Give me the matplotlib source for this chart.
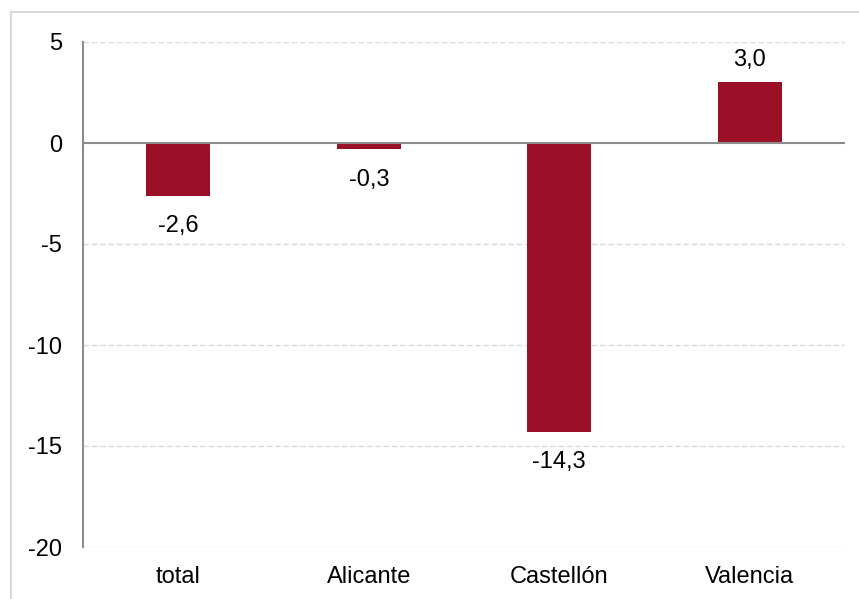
import matplotlib
matplotlib.use("Agg")
import matplotlib.pyplot as plt
from matplotlib.patches import Rectangle

categories = ["total", "Alicante", "Castellón", "Valencia"]
values = [-2.6, -0.3, -14.3, 3.0]
yticks = [5, 0, -5, -10, -15, -20]

bar_color = "#9b1027"
grid_color = "#d9d9d9"
axis_color = "#8c8c8c"

plt.rcParams["font.family"] = ["Liberation Sans", "DejaVu Sans"]

fig = plt.figure(figsize=(8.59, 5.99), dpi=100)
# light frame round the chart (cropped at right and bottom)
fig.patches.append(Rectangle((10.5 / 859, -0.1), 1.2, (599 - 11.5) / 599 + 0.1,
                             transform=fig.transFigure, fill=False,
                             edgecolor="#d9d9d9", linewidth=1.5))

ax = fig.add_axes([83 / 859, 52 / 599, 762 / 859, 505 / 599])
x = list(range(len(categories)))
ax.bar(x, values, width=0.336, color=bar_color, zorder=2)
ax.axhline(0, color=axis_color, linewidth=1.5, zorder=3)

for xi, v in zip(x, values):
    txt = f"{v:.1f}".replace(".", ",")
    if v >= 0:
        ax.annotate(txt, (xi, v), xytext=(0, 8), textcoords="offset points",
                    ha="center", va="bottom", fontsize=17)
    else:
        ax.annotate(txt, (xi, v), xytext=(0, -14), textcoords="offset points",
                    ha="center", va="top", fontsize=17)

ax.set_xlim(-0.5, len(categories) - 0.5)
ax.set_ylim(-20, 5)
ax.set_yticks(yticks)
ax.set_yticklabels([str(t) for t in yticks])
ax.set_xticks(x)
ax.set_xticklabels(categories)
ax.tick_params(axis="both", length=0, labelsize=17)
ax.tick_params(axis="y", pad=15)
ax.tick_params(axis="x", pad=14)

for t in yticks:
    if t != 0:
        ax.axhline(t, color=grid_color, linewidth=1, linestyle=(0, (4, 2)), zorder=1)

for s in ["top", "right", "bottom"]:
    ax.spines[s].set_visible(False)
ax.spines["left"].set_color(axis_color)
ax.spines["left"].set_linewidth(1.5)

fig.savefig("out.png", dpi=100)
